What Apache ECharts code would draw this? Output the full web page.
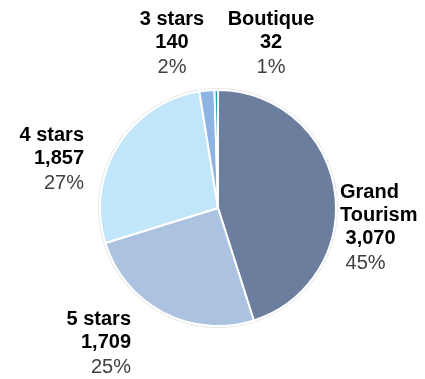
<!DOCTYPE html>
<html><head><meta charset="utf-8">
<script src="https://cdn.jsdelivr.net/npm/echarts@6/dist/echarts.min.js"></script>
<style>html,body{margin:0;padding:0;background:#fff}#c{width:425px;height:379px}</style>
</head><body><div id="c"></div>
<script>
const categories = ['Grand Tourism', '5 stars', '4 stars', '3 stars', 'Boutique'];
const values = [3070, 1709, 1857, 140, 32];
const pctLabels = ['45%', '25%', '27%', '2%', '1%'];
const colors = ['#6b7e9e', '#abc2e0', '#c1e5f9', '#8db4e3', '#24a3b5'];
const nameLines = ['Grand\nTourism', '5 stars', '4 stars', '3 stars', 'Boutique'];

// label anchor positions (pixels) per slice
const labelPos = [
  {x: 340, y: 181, align: 'left'},
  {x: 131, y: 308, align: 'right'},
  {x: 84, y: 124, align: 'right'},
  {x: 172, y: 8, align: 'center'},
  {x: 271, y: 8, align: 'center'}
];

const chart = echarts.init(document.getElementById('c'), null, {renderer: 'canvas'});
const font = '"Liberation Sans", Arial, sans-serif';
chart.setOption({
  animation: false,
  series: [{
    type: 'pie',
    center: [218, 208],
    radius: [0, 118],
    startAngle: 90,
    clockwise: true,
    silent: true,
    itemStyle: {borderColor: '#ffffff', borderWidth: 2},
    labelLine: {show: false},
    label: {
      show: true,
      position: 'outside',
      overflow: 'none',
      edgeDistance: 0,
      bleedMargin: 0,
      formatter: function (p) {
        const i = p.dataIndex;
        const nm = nameLines[i].split('\n').map(s => '{n|' + s + '}').join('\n');
        const pre = i === 0 ? ' ' : '';
        return nm + '\n{v|' + pre + values[i].toLocaleString('en-US') + '}\n{p|' + pre + pctLabels[i] + '}';
      },
      rich: {
        n: {fontFamily: font, fontWeight: 'bold', fontSize: 20, color: '#000', lineHeight: 23},
        v: {fontFamily: font, fontWeight: 'bold', fontSize: 20, color: '#000', lineHeight: 23},
        p: {fontFamily: font, fontSize: 20, color: '#404040', lineHeight: 26}
      }
    },
    labelLayout: function (params) {
      const lp = labelPos[params.dataIndex];
      return {x: lp.x, y: lp.y, align: lp.align, verticalAlign: 'top', hideOverlap: false, moveOverlap: null};
    },
    data: categories.map((c, i) => ({name: c, value: values[i], itemStyle: {color: colors[i]}}))
  }, {
    type: 'pie',
    center: [218, 208],
    radius: [119, 120],
    silent: true,
    z: 1,
    label: {show: false},
    labelLine: {show: false},
    itemStyle: {color: '#e6e6e6'},
    data: [{value: 1, name: 'ring'}]
  }]
});
</script>
</body></html>
